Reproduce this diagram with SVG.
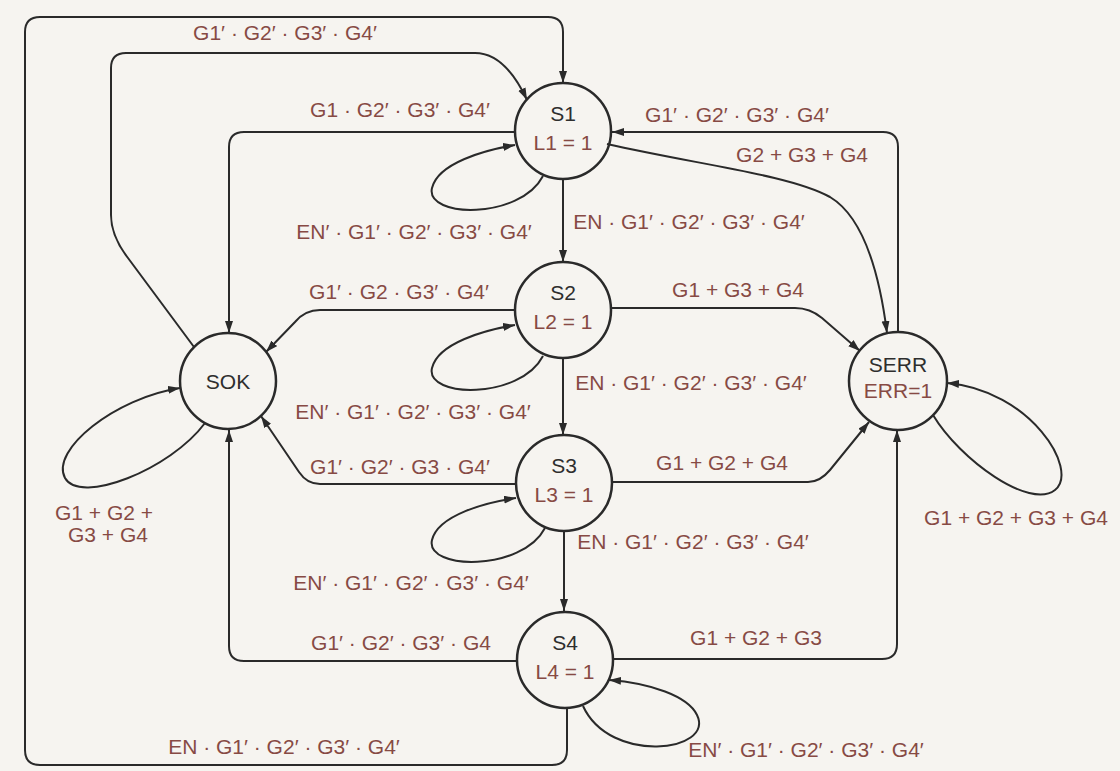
<svg xmlns="http://www.w3.org/2000/svg" width="1120" height="771" viewBox="0 0 1120 771">
<defs>
<marker id="arr" markerUnits="userSpaceOnUse" markerWidth="13" markerHeight="9" refX="12" refY="4" orient="auto">
<path d="M0,0 L12,4 L0,8 z" fill="#2a2a2a"/>
</marker>
<style>
.bg{fill:#f6f4f0}
.node{fill:none;stroke:#2a2a2a;stroke-width:2.5}
.name{font-family:"Liberation Sans",Arial,sans-serif;font-size:21px;fill:#2e2e2e;text-anchor:middle}
.out{font-family:"Liberation Sans",Arial,sans-serif;font-size:21px;fill:#874a44;text-anchor:middle}
.lbl{font-family:"Liberation Sans",Arial,sans-serif;font-size:21px;fill:#874a44;text-anchor:middle}
.edge{fill:none;stroke:#2a2a2a;stroke-width:2}
.arrow{marker-end:url(#arr)}
</style>
</defs>
<rect class="bg" x="0" y="0" width="1120" height="771"/>

<g id="connectors">
<path id="e-s4-s1" class="edge arrow" d="M567,708 L567,750 Q567,765 552,765 L40,765 Q25,765 25,750 L25,32 Q25,17 40,17 L548,17 Q563,17 563,32 L563,83"/>
<path id="e-sok-s1" class="edge arrow" d="M194,347 L128,258 Q111,236 111,215 L111,68 Q111,53 126,53 L475,53 Q505,53 527,100"/>
<path id="e-s1-sok" class="edge arrow" d="M515,132 L244,132 Q229,132 229,147 L229,333"/>
<path id="e-s1-s1" class="edge arrow" d="M543,176 C520,220 425,218 432,188 C438,163 485,150 515,145"/>
<path id="e-serr-s1" class="edge arrow" d="M898,332 L898,147 Q898,132 883,132 L612,132"/>
<path id="e-s1-serr" class="edge arrow" d="M607,144 C700,165 790,175 830,197 C860,215 878,262 887,333"/>
<path id="e-s1-s2" class="edge arrow" d="M563,180 L563,262"/>
<path id="e-s2-sok" class="edge arrow" d="M515,310 L320,310 Q305,310 295,322 L266,352"/>
<path id="e-s2-s2" class="edge arrow" d="M543,356 C520,400 425,398 432,368 C438,343 485,330 515,325"/>
<path id="e-s2-s3" class="edge arrow" d="M563,359 L563,435"/>
<path id="e-s2-serr" class="edge arrow" d="M611,308 L795,308 Q810,308 822,318 L860,351"/>
<path id="e-s3-sok" class="edge arrow" d="M517,484 L320,484 Q307,484 299,472 L261,416"/>
<path id="e-s3-s3" class="edge arrow" d="M545,528 C522,572 425,570 432,540 C438,515 487,502 516,498"/>
<path id="e-s3-s4" class="edge arrow" d="M564,531 L564,611"/>
<path id="e-s3-serr" class="edge arrow" d="M612,482 L808,482 Q820,482 830,470 L869,422"/>
<path id="e-s4-sok" class="edge arrow" d="M517,661 L244,661 Q229,661 229,646 L229,430"/>
<path id="e-s4-s4" class="edge arrow" d="M583,706 C610,765 715,752 697,715 C688,696 650,683 609,680"/>
<path id="e-s4-serr" class="edge arrow" d="M613,659 L882,659 Q897,659 897,644 L897,430"/>
<path id="e-sok-sok" class="edge arrow" d="M205,423 C170,470 80,505 65,478 C50,450 115,398 180,388"/>
<path id="e-serr-serr" class="edge arrow" d="M933,415 C960,460 1030,510 1055,490 C1080,470 1030,390 947,383"/>

<text class="lbl" x="285" y="40">G1′ · G2′ · G3′ · G4′</text>
<text class="lbl" x="400" y="117">G1 · G2′ · G3′ · G4′</text>
<text class="lbl" x="414" y="239">EN′ · G1′ · G2′ · G3′ · G4′</text>
<text class="lbl" x="737" y="122">G1′ · G2′ · G3′ · G4′</text>
<text class="lbl" x="802" y="162">G2 + G3 + G4</text>
<text class="lbl" x="689" y="229">EN · G1′ · G2′ · G3′ · G4′</text>
<text class="lbl" x="399" y="299">G1′ · G2 · G3′ · G4′</text>
<text class="lbl" x="738" y="297">G1 + G3 + G4</text>
<text class="lbl" x="413" y="419">EN′ · G1′ · G2′ · G3′ · G4′</text>
<text class="lbl" x="691" y="390">EN · G1′ · G2′ · G3′ · G4′</text>
<text class="lbl" x="400" y="474">G1′ · G2′ · G3 · G4′</text>
<text class="lbl" x="722" y="470">G1 + G2 + G4</text>
<text class="lbl" x="411" y="590">EN′ · G1′ · G2′ · G3′ · G4′</text>
<text class="lbl" x="693" y="549">EN · G1′ · G2′ · G3′ · G4′</text>
<text class="lbl" x="401" y="650">G1′ · G2′ · G3′ · G4</text>
<text class="lbl" x="756" y="645">G1 + G2 + G3</text>
<text class="lbl" x="806" y="757">EN′ · G1′ · G2′ · G3′ · G4′</text>
<text class="lbl" x="284" y="754">EN · G1′ · G2′ · G3′ · G4′</text>
<text class="lbl" x="104" y="520">G1 + G2 +</text>
<text class="lbl" x="108" y="542">G3 + G4</text>
<text class="lbl" x="1016" y="525">G1 + G2 + G3 + G4</text>
</g>

<g id="S1">
<circle class="node" cx="563" cy="131" r="48"/>
<text class="name" x="563" y="121">S1</text>
<text class="out" x="563" y="150">L1 = 1</text>
</g>
<g id="S2">
<circle class="node" cx="563" cy="310" r="48"/>
<text class="name" x="563" y="300">S2</text>
<text class="out" x="563" y="329">L2 = 1</text>
</g>
<g id="S3">
<circle class="node" cx="564" cy="483" r="48"/>
<text class="name" x="564" y="473">S3</text>
<text class="out" x="564" y="502">L3 = 1</text>
</g>
<g id="S4">
<circle class="node" cx="565" cy="660" r="48"/>
<text class="name" x="565" y="650">S4</text>
<text class="out" x="565" y="679">L4 = 1</text>
</g>
<g id="SOK">
<circle class="node" cx="228" cy="381" r="48"/>
<text class="name" x="228" y="389">SOK</text>
</g>
<g id="SERR">
<circle class="node" cx="898" cy="381" r="49"/>
<text class="name" x="898" y="372">SERR</text>
<text class="out" x="898" y="398">ERR=1</text>
</g>
</svg>
